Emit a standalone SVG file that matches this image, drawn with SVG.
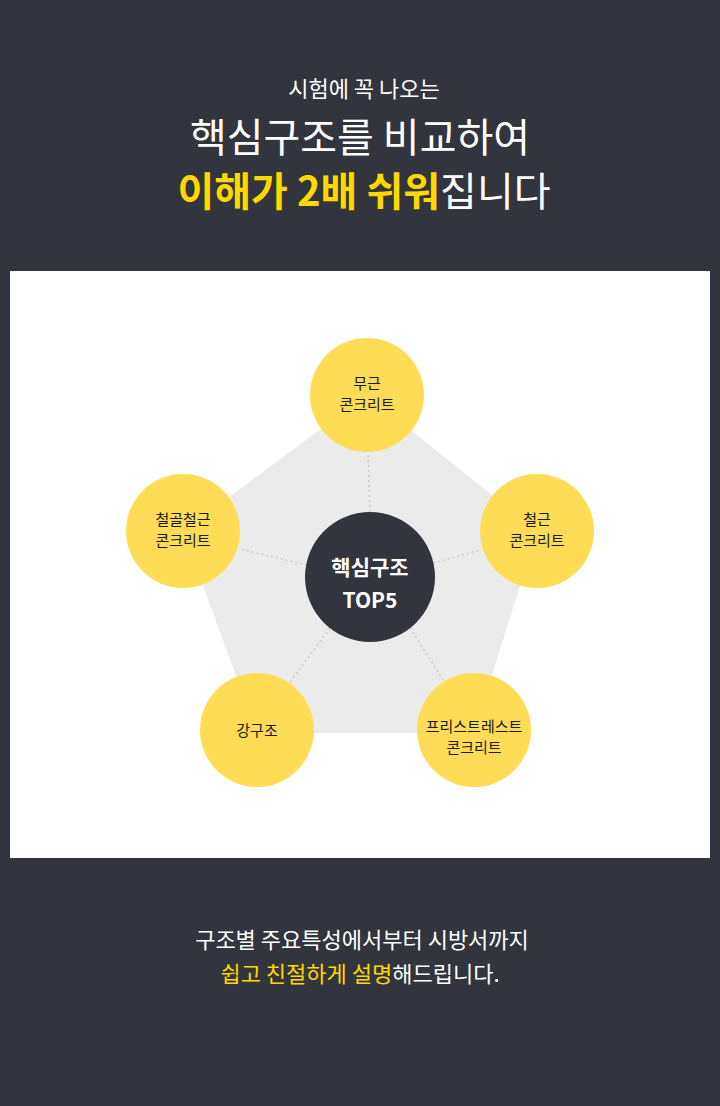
<svg xmlns="http://www.w3.org/2000/svg" width="720" height="1106" viewBox="0 0 720 1106">
<style>
text{font-family:"Noto Sans CJK KR","Noto Sans",sans-serif;text-anchor:middle}
.n{fill:#ffdc55}
.nt{font-size:15px;fill:#1a1a1a}
.c{stroke:#c8c8c8;stroke-width:1.5;stroke-dasharray:2 3;fill:none}
.y{fill:#ffd800;font-weight:bold}
</style>
<rect width="720" height="1106" fill="#32353d"/>
<text x="364" y="97" font-size="22" fill="#fff">시험에 꼭 나오는</text>
<text x="360" y="152" font-size="40" fill="#fff">핵심구조를 비교하여</text>
<text x="364" y="206" font-size="40" fill="#fff"><tspan class="y">이해가 2배 쉬워</tspan>집니다</text>
<rect x="10" y="271" width="700" height="587" fill="#fff"/>
<polygon points="367,395 537,531 474,733 257,733 183,531" fill="#ebebeb"/>
<g id="connectors">
<line class="c" x1="370" y1="512" x2="368" y2="452"/>
<line class="c" x1="433" y1="563" x2="481" y2="550"/>
<line class="c" x1="410" y1="628" x2="443" y2="680"/>
<line class="c" x1="330" y1="628" x2="290" y2="682"/>
<line class="c" x1="307" y1="565" x2="240" y2="549"/>
</g>
<g id="center"><circle cx="370" cy="577" r="65" fill="#32353d"/>
<text x="370" y="575" font-size="21" font-weight="bold" fill="#fff">핵심구조</text>
<text x="370" y="608" font-size="21" font-weight="bold" fill="#fff">TOP5</text></g>
<g id="n1"><circle class="n" cx="367" cy="395" r="57"/><text class="nt" x="367" y="389">무근</text><text class="nt" x="367" y="410">콘크리트</text></g>
<g id="n2"><circle class="n" cx="537" cy="531" r="57"/><text class="nt" x="537" y="525">철근</text><text class="nt" x="537" y="546">콘크리트</text></g>
<g id="n3"><circle class="n" cx="474" cy="730" r="57"/><text class="nt" x="474" y="732">프리스트레스트</text><text class="nt" x="474" y="753">콘크리트</text></g>
<g id="n4"><circle class="n" cx="257" cy="730" r="57"/><text class="nt" x="257" y="736">강구조</text></g>
<g id="n5"><circle class="n" cx="183" cy="531" r="57"/><text class="nt" x="183" y="525">철골철근</text><text class="nt" x="183" y="546">콘크리트</text></g>
<text x="362" y="948" font-size="22" fill="#fff">구조별 주요특성에서부터 시방서까지</text>
<text x="360" y="982" font-size="22" fill="#fff"><tspan fill="#ffd800">쉽고 친절하게 설명</tspan>해드립니다.</text>
</svg>
